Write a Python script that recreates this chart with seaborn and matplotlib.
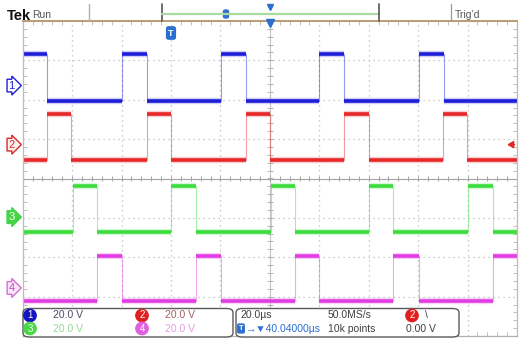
import numpy as np
import pandas as pd
import matplotlib
matplotlib.use("Agg")
import matplotlib.pyplot as plt
from matplotlib.patches import FancyBboxPatch
from matplotlib.lines import Line2D
from matplotlib.ticker import MultipleLocator
import seaborn as sns

# ---- acquisition settings -------------------------------------------------
time_per_div_us = 20.0
t_start_us = -60.0          # left edge of the screen, relative to trigger
n_hdiv = 10
n_vdiv = 8
sample_rate = "50.0MS/s"
record_len = "10k points"
trig_delay = "40.04000µs"
trig_source = "2"
trig_level_v = 0.0

# ---- channels ---------------------------------------------------------------
channels = ["1", "2", "3", "4"]
ch_scale_v = [20.0, 20.0, 20.0, 20.0]          # volts / div
ch_offset_div = [2.36, 0.86, -0.98, -2.78]     # ground marker position
ch_high_v = [15.8, 15.4, 16.0, 16.0]
ch_low_v = [-7.9, -8.0, -7.4, -6.6]
ch_initial_high = [True, False, False, False]

# switching instants (µs from trigger); every instant toggles the gate level
ch1_edges_us = [-50.2, -20.0, -9.9, 20.2, 30.2, 60.0, 70.1, 100.3, 110.3]
ch2_edges_us = [-50.1, -40.4, -9.9, 0.0, 30.3, 40.0, 70.2, 80.1, 110.1, 119.9]
ch3_edges_us = [-39.8, -30.1, 0.2, 10.0, 40.3, 50.1, 80.3, 89.9, 120.3, 130.2]
ch4_edges_us = [-29.9, -20.0, 10.1, 20.1, 50.2, 60.0, 90.0, 100.2, 130.4]
ch_edges = [ch1_edges_us, ch2_edges_us, ch3_edges_us, ch4_edges_us]

ch_colors = ["#1e1ed8", "#e62828", "#3cdc3c", "#e23ce2"]

W, H = 531, 340
t_end_us = t_start_us + n_hdiv * time_per_div_us

# ---- build level segments --------------------------------------------------
rows = []
for name, edges, hi, lo, init, off, sc in zip(channels, ch_edges, ch_high_v, ch_low_v,
                                              ch_initial_high, ch_offset_div, ch_scale_v):
    times = [t_start_us] + list(edges) + [t_end_us]
    level = init
    for i in range(len(times) - 1):
        y = off + (hi if level else lo) / sc
        rows.append(dict(ch=name, seg=i, t=times[i], y=y))
        rows.append(dict(ch=name, seg=i, t=times[i + 1], y=y))
        level = not level
trace = pd.DataFrame(rows)

# ---- figure ----------------------------------------------------------------
sns.set_theme(style="white")
plt.rcParams["font.family"] = ["Liberation Sans Narrow", "Liberation Sans", "DejaVu Sans"]

fig = plt.figure(figsize=(W / 100, H / 100), dpi=100)
fig.patch.set_facecolor("white")

def fx(x):
    return x / W

def fy(y):
    return 1 - y / H

left, right, top, bottom = 22.7, 517.0, 21.0, 336.0
ax = fig.add_axes([fx(left), fy(bottom), fx(right - left), (bottom - top) / H])
ax.set_facecolor("white")

for name, color in zip(channels, ch_colors):
    d = trace[trace.ch == name]
    # sparse transitions
    sns.lineplot(data=d, x="t", y="y", sort=False, estimator=None, color=color,
                 lw=0.8, alpha=0.45, ax=ax)
    # dense persistence glow on the levels
    sns.lineplot(data=d, x="t", y="y", units="seg", estimator=None, color=color,
                 lw=4.6, alpha=0.22, ax=ax, solid_capstyle="butt")
    sns.lineplot(data=d, x="t", y="y", units="seg", estimator=None, color=color,
                 lw=2.6, ax=ax, solid_capstyle="butt")

ax.set_xlim(t_start_us, t_end_us)
ax.set_ylim(-n_vdiv / 2, n_vdiv / 2)
ax.set(xlabel="", ylabel="")

# graticule
ax.xaxis.set_major_locator(MultipleLocator(time_per_div_us))
ax.yaxis.set_major_locator(MultipleLocator(1))
ax.xaxis.set_minor_locator(MultipleLocator(time_per_div_us / 5))
ax.yaxis.set_minor_locator(MultipleLocator(0.2))
ax.tick_params(which="major", length=0, labelbottom=False, labelleft=False)
ax.tick_params(which="minor", direction="in", length=3, width=0.6, color="#b4b4b4",
               top=True, bottom=True, left=True, right=True)
ax.grid(True, which="major", color="#bdbdbd", ls=(0, (1, 3)), lw=0.9)
ax.set_axisbelow(True)

t_mid = t_start_us + n_hdiv / 2 * time_per_div_us
ax.axhline(0, color="#a4a4a4", lw=0.8, zorder=1)
ax.axvline(t_mid, color="#c4c4c4", lw=0.8, zorder=1)
ax.vlines(np.arange(t_start_us, t_end_us + 0.1, time_per_div_us / 5), -0.07, 0.07,
          color="#a4a4a4", lw=0.7, zorder=1)
ax.hlines(np.arange(-n_vdiv / 2, n_vdiv / 2 + 0.01, 0.2), t_mid - 1.2, t_mid + 1.2,
          color="#b4b4b4", lw=0.7, zorder=1)

for side, c in [("left", "#bcbcbc"), ("right", "#c8bca8"), ("bottom", "#b0b0b0")]:
    ax.spines[side].set_color(c)
    ax.spines[side].set_linewidth(0.9)
ax.spines["top"].set_color("#b8946c")
ax.spines["top"].set_linewidth(1.3)

# trigger level arrow on channel 2
trig_y = ch_offset_div[1] + trig_level_v / ch_scale_v[1]
ax.annotate("", xy=(t_end_us - 4.0, trig_y), xytext=(t_end_us - 1.0, trig_y),
            arrowprops=dict(arrowstyle="-|>,head_length=0.3,head_width=0.18",
                            color="#e02828", lw=1.1, shrinkA=0, shrinkB=0),
            annotation_clip=False)

# ---- channel ground markers -------------------------------------------------
marker_style = [("#ffffff", "#1e1ed8", "#1e1ed8"),
                ("#fff0f0", "#d82828", "#d82828"),
                ("#44d444", "#44d444", "#ffffff"),
                ("#fbe6fb", "#d070d0", "#c050c0")]
for name, off, (fc, ec, tc) in zip(channels, ch_offset_div, marker_style):
    ypix = top + (n_vdiv / 2 - off) * (bottom - top) / n_vdiv
    fig.text(fx(11.5), fy(ypix), name, color=tc, fontsize=8, ha="center", va="center",
             bbox=dict(boxstyle="rarrow,pad=0.12", fc=fc, ec=ec, lw=1.0))

# ---- header -----------------------------------------------------------------
fig.text(fx(7), fy(15.5), "Tek", fontsize=10.5, fontweight="bold", color="#111111",
         va="center", ha="left")
fig.text(fx(32), fy(14.5), "Run", fontsize=7.5, color="#555555", va="center")

def fline(x0, y0, x1, y1, color, lw):
    fig.add_artist(Line2D([fx(x0), fx(x1)], [fy(y0), fy(y1)], color=color, lw=lw,
                          transform=fig.transFigure))

fline(88.5, 4, 88.5, 21, "#b0b0b0", 1.0)
fline(161.5, 4, 161.5, 21, "#555555", 1.2)
fline(162, 13.5, 379, 13.5, "#a8dca0", 1.6)
fline(379, 4, 379, 21, "#555555", 1.2)
fline(451, 4, 451, 21, "#999999", 0.9)
fig.text(fx(455), fy(14.5), "Trig\u2019d", fontsize=7.5, color="#555555", va="center")
fig.patches.append(FancyBboxPatch((fx(223.5), fy(18)), fx(5), 8 / H,
                                  boxstyle="round,pad=0,rounding_size=0.004",
                                  fc="#3070d0", ec="#3070d0", transform=fig.transFigure))
fig.add_artist(Line2D([fx(270)], [fy(7)], marker="v", ms=5, color="#2a6fd0",
                      transform=fig.transFigure))
fig.add_artist(Line2D([fx(270)], [fy(23)], marker="v", ms=6, color="#2a6fd0",
                      transform=fig.transFigure))
fig.text(fx(171), fy(33), "T", fontsize=6.5, fontweight="bold", color="white",
         ha="center", va="center",
         bbox=dict(boxstyle="round,pad=0.18,rounding_size=0.2", fc="#2a6fd0", ec="#2a6fd0"))

# ---- readout boxes ------------------------------------------------------------
def fbox(x0, y0, x1, y1):
    fig.patches.append(FancyBboxPatch((fx(x0), fy(y1)), fx(x1 - x0), (y1 - y0) / H,
                                      boxstyle="round,pad=0,rounding_size=0.012",
                                      fc="white", ec="#5a5a5a", lw=1.0,
                                      transform=fig.transFigure, zorder=5))

fbox(23, 308.5, 233, 337)
fbox(236, 308.5, 459, 337)

badge_fc = ["#1414c0", "#e02020", "#48d848", "#e060e0"]
value_c = ["#4a4a66", "#a06060", "#98d898", "#e0a0e0"]
badge_xy = [(30, 315.5), (142, 315.5), (30, 328.5), (142, 328.5)]
for name, sc, bfc, vc, (bx, by) in zip(channels, ch_scale_v, badge_fc, value_c, badge_xy):
    fig.text(fx(bx), fy(by), name, fontsize=7, color="white", ha="center", va="center",
             zorder=6, bbox=dict(boxstyle="circle,pad=0.12", fc=bfc, ec=bfc))
    fig.text(fx(bx + 23), fy(by), f"{sc:.1f} V", fontsize=7.5, color=vc, ha="left",
             va="center", zorder=6)

fig.text(fx(240), fy(315.5), f"{time_per_div_us:.1f}µs", fontsize=7.5, color="#404040",
         va="center", zorder=6)
fig.text(fx(241), fy(328.5), "T", fontsize=5.5, fontweight="bold", color="white",
         ha="center", va="center", zorder=6,
         bbox=dict(boxstyle="round,pad=0.12,rounding_size=0.15", fc="#2a6fd0", ec="#2a6fd0"))
fig.text(fx(246), fy(328.5), "\u2192\u25bc" + trig_delay, fontsize=7.5, color="#2a6fd0",
         va="center", zorder=6)
fig.text(fx(328), fy(315.5), sample_rate, fontsize=7.5, color="#404040", va="center", zorder=6)
fig.text(fx(328), fy(328.5), record_len, fontsize=7.5, color="#404040", va="center", zorder=6)
fig.text(fx(412), fy(315.5), trig_source, fontsize=7, color="white", ha="center", va="center",
         zorder=6, bbox=dict(boxstyle="circle,pad=0.12", fc="#e02020", ec="#e02020"))
fig.text(fx(425), fy(315.5), "\\", fontsize=7.5, color="#404040", va="center", zorder=6)
fig.text(fx(406), fy(328.5), f"{trig_level_v:.2f} V", fontsize=7.5, color="#404040",
         va="center", zorder=6)

fig.savefig("out.png", dpi=100, facecolor="white")
